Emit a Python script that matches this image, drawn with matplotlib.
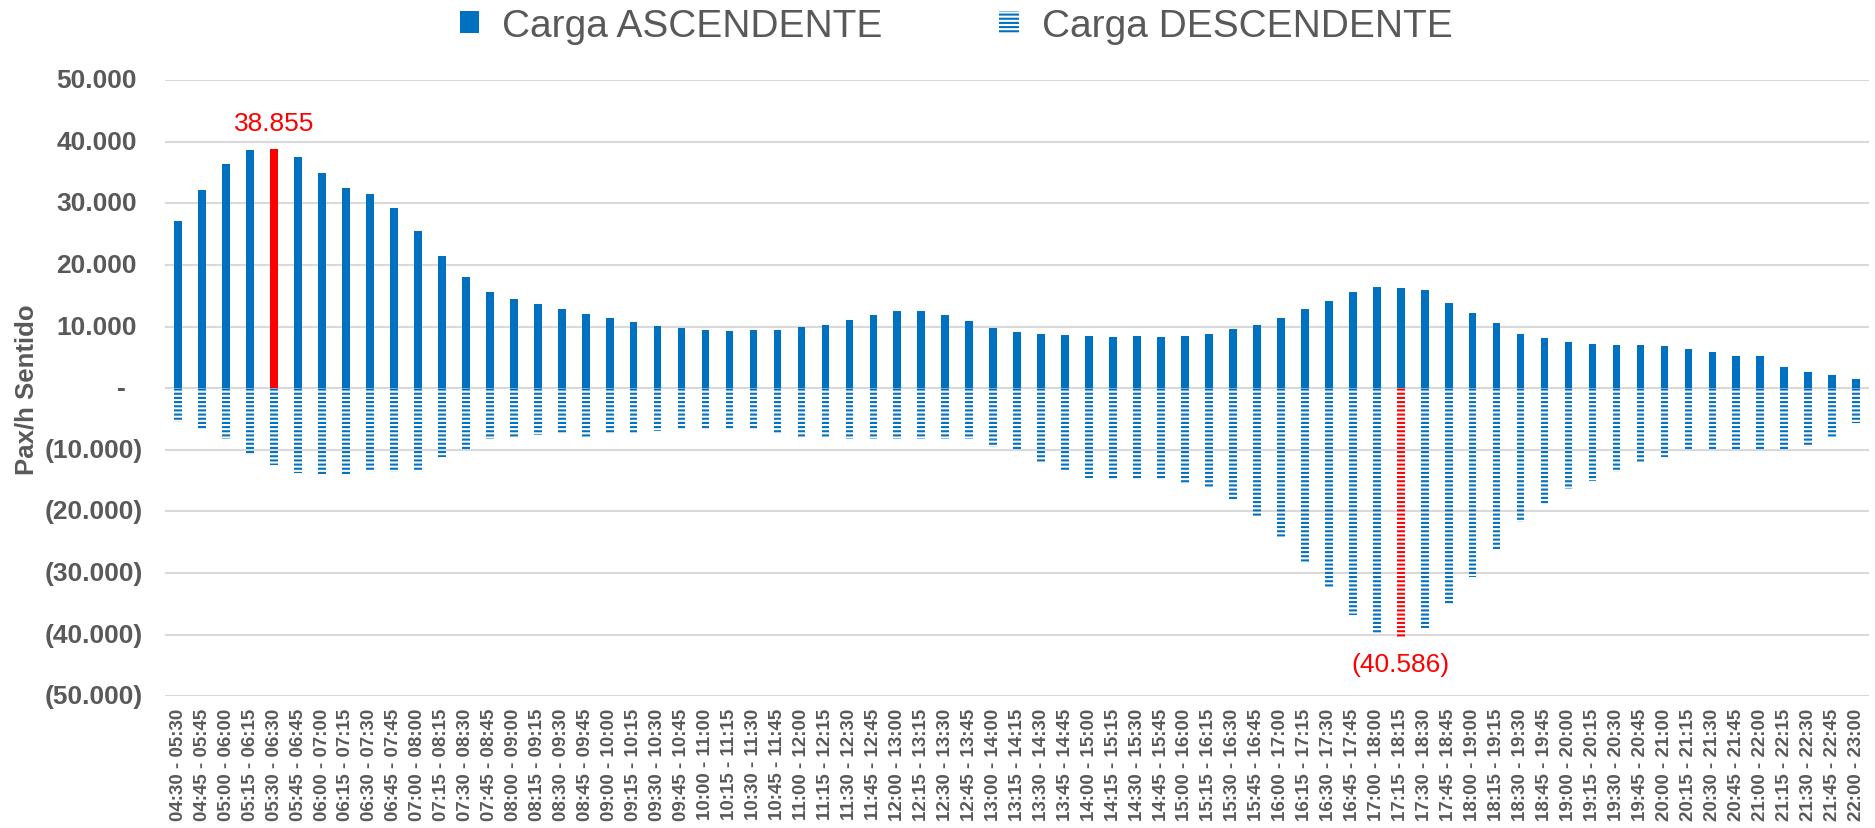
import matplotlib
matplotlib.use("Agg")
import matplotlib.pyplot as plt
from matplotlib.patches import Rectangle
from matplotlib.ticker import FixedLocator, NullFormatter
from matplotlib.transforms import ScaledTranslation

plt.rcParams['font.family'] = ['Liberation Sans', 'DejaVu Sans']
plt.rcParams['hatch.linewidth'] = 1.5

# ---- data ----
start_times = ["04:30", "04:45", "05:00", "05:15", "05:30", "05:45", "06:00", "06:15", "06:30", "06:45",
               "07:00", "07:15", "07:30", "07:45", "08:00", "08:15", "08:30", "08:45", "09:00", "09:15",
               "09:30", "09:45", "10:00", "10:15", "10:30", "10:45", "11:00", "11:15", "11:30", "11:45",
               "12:00", "12:15", "12:30", "12:45", "13:00", "13:15", "13:30", "13:45", "14:00", "14:15",
               "14:30", "14:45", "15:00", "15:15", "15:30", "15:45", "16:00", "16:15", "16:30", "16:45",
               "17:00", "17:15", "17:30", "17:45", "18:00", "18:15", "18:30", "18:45", "19:00", "19:15",
               "19:30", "19:45", "20:00", "20:15", "20:30", "20:45", "21:00", "21:15", "21:30", "21:45",
               "22:00"]
end_times = ["05:30", "05:45", "06:00", "06:15", "06:30", "06:45", "07:00", "07:15", "07:30", "07:45",
             "08:00", "08:15", "08:30", "08:45", "09:00", "09:15", "09:30", "09:45", "10:00", "10:15",
             "10:30", "10:45", "11:00", "11:15", "11:30", "11:45", "12:00", "12:15", "12:30", "12:45",
             "13:00", "13:15", "13:30", "13:45", "14:00", "14:15", "14:30", "14:45", "15:00", "15:15",
             "15:30", "15:45", "16:00", "16:15", "16:30", "16:45", "17:00", "17:15", "17:30", "17:45",
             "18:00", "18:15", "18:30", "18:45", "19:00", "19:15", "19:30", "19:45", "20:00", "20:15",
             "20:30", "20:45", "21:00", "21:15", "21:30", "21:45", "22:00", "22:15", "22:30", "22:45",
             "23:00"]
categories = [f"{s} - {e}" for s, e in zip(start_times, end_times)]

carga_ascendente = [27200, 32100, 36400, 38700, 38855, 37500, 34900, 32500, 31500, 29200,
                    25500, 21400, 18000, 15700, 14500, 13700, 12900, 12100, 11400, 10800,
                    10100, 9800, 9500, 9300, 9400, 9500, 10000, 10300, 11000, 11900,
                    12500, 12500, 11900, 10900, 9800, 9100, 8800, 8600, 8500, 8300,
                    8400, 8300, 8500, 8800, 9600, 10300, 11400, 12900, 14100, 15700,
                    16400, 16300, 15900, 13800, 12200, 10600, 8800, 8100, 7500, 7200,
                    7000, 7000, 6800, 6400, 5900, 5300, 5300, 3500, 2700, 2100,
                    1500]
carga_descendente = [-5500, -6800, -8300, -10800, -12400, -13800, -13900, -13900, -13500, -13600,
                     -13200, -11100, -10200, -8200, -8100, -7600, -7500, -8000, -7500, -7500,
                     -6900, -6800, -6700, -6800, -6800, -7400, -7900, -8100, -8200, -8200,
                     -8200, -8200, -8200, -8200, -9500, -10200, -12200, -13500, -14600, -14700,
                     -14700, -14700, -15500, -16100, -18300, -20900, -24300, -28300, -32400, -36800,
                     -39700, -40586, -38900, -35100, -30700, -26200, -21700, -19000, -16400, -15000,
                     -13600, -12100, -11100, -10200, -10200, -10200, -10100, -10100, -9300, -8000,
                     -5600]

max_asc_idx = 4
max_desc_idx = 51
y_ticks = [50000, 40000, 30000, 20000, 10000, 0, -10000, -20000, -30000, -40000, -50000]

# ---- style ----
BLUE = '#0070C0'
RED = '#FF0000'
GRAY_TXT = '#595959'
GRID = '#D9D9D9'

fig = plt.figure(figsize=(18.75, 8.29), dpi=100)
ax = fig.add_axes([0.088, 0.159, 0.909, 0.743])

x = list(range(len(categories)))
asc_colors = [RED if i == max_asc_idx else BLUE for i in x]
desc_colors = [RED if i == max_desc_idx else BLUE for i in x]

width = 0.32
ax.bar(x, carga_ascendente, width=width, color=asc_colors, zorder=3)
ax.bar(x, carga_descendente, width=width, color='none', edgecolor=desc_colors,
       linewidth=0, hatch='----', zorder=3)

ax.set_xlim(-0.55, len(categories) - 0.45)
ax.set_ylim(-50000, 50000)
ax.yaxis.set_major_locator(FixedLocator(y_ticks))
ax.yaxis.set_major_formatter(NullFormatter())


def fmt(v):
    if v == 0:
        return '-'
    s = f"{abs(v):,.0f}".replace(',', '.')
    return s if v > 0 else f"({s})"


# y tick labels, Excel-style alignment (gap from axes edge in pixels)
ytrans = ax.get_yaxis_transform()
for v in y_ticks:
    gap_px = 28 if v > 0 else (22 if v < 0 else 39)
    tr = ytrans + ScaledTranslation(-gap_px / 100, 0, fig.dpi_scale_trans)
    ax.text(0, v, fmt(v), transform=tr, ha='right', va='center', fontsize=19,
            fontweight='bold', color=GRAY_TXT)

ax.grid(axis='y', color=GRID, linewidth=1.5, zorder=0)
ax.set_axisbelow(True)
for sp in ax.spines.values():
    sp.set_visible(False)
ax.tick_params(axis='both', length=0)

ax.set_xticks(x)
ax.set_xticklabels(categories, rotation=90, fontsize=13.5, fontweight='bold', color=GRAY_TXT)
ax.tick_params(axis='x', pad=8)

ax.set_ylabel('Pax/h Sentido', fontsize=18.5, fontweight='bold', color=GRAY_TXT)
ax.yaxis.set_label_coords(-0.0745, 0.5)

# data labels for maxima
ax.annotate(fmt(carga_ascendente[max_asc_idx]), (max_asc_idx, carga_ascendente[max_asc_idx]),
            xytext=(0, 10), textcoords='offset points', ha='center', va='bottom',
            color=RED, fontsize=19)
ax.annotate(fmt(carga_descendente[max_desc_idx]), (max_desc_idx, carga_descendente[max_desc_idx]),
            xytext=(0, -10), textcoords='offset points', ha='center', va='top',
            color=RED, fontsize=19)

# legend
h1 = Rectangle((0, 0), 1, 1, facecolor=BLUE, edgecolor='none')
h2 = Rectangle((0, 0), 1, 1, facecolor='none', edgecolor=BLUE, linewidth=0, hatch='----')
fig.legend([h1, h2], ['Carga ASCENDENTE', 'Carga DESCENDENTE'], loc='center',
           bbox_to_anchor=(0.51, 0.968), ncol=2, frameon=False, fontsize=28,
           labelcolor=GRAY_TXT, handlelength=0.5, handleheight=0.5,
           handletextpad=0.6, columnspacing=3.0)

fig.savefig('out.png', dpi=100)
